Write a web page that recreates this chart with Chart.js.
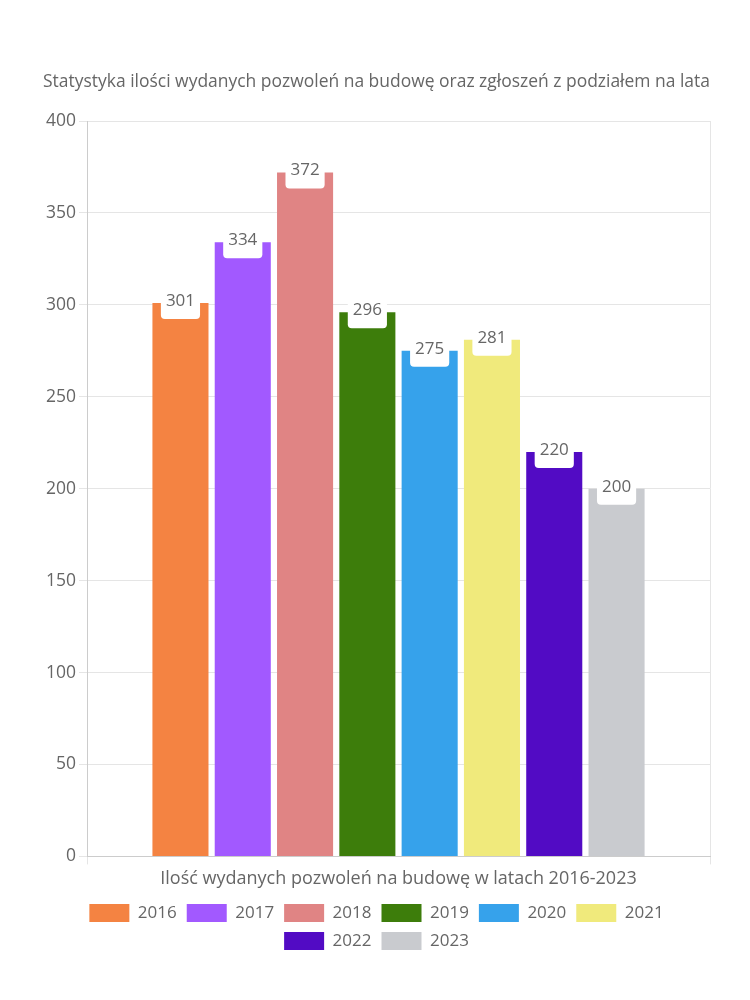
<!DOCTYPE html>
<html>
<head>
<meta charset="utf-8">
<script src="https://cdn.jsdelivr.net/npm/chart.js@4"></script>
<style>
  html, body { margin: 0; padding: 0; background: #fff; }
  #wrap { width: 750px; height: 1000px; }
</style>
</head>
<body>
<div id="wrap"><canvas id="chart"></canvas></div>
<script>
// Data
const category = ['Ilość wydanych pozwoleń na budowę w latach 2016-2023'];
const years = ['2016', '2017', '2018', '2019', '2020', '2021', '2022', '2023'];
const values = [301, 334, 372, 296, 275, 281, 220, 200];
const colors = ['#F48342', '#A259FF', '#E08484', '#3D7D0B', '#36A2EB', '#F0EA7C', '#520BC4', '#C9CBCF'];
const yTicks = [0, 50, 100, 150, 200, 250, 300, 350, 400];

const FONT = "'Open Sans', sans-serif";
const TXT = '#666';

// white label boxes on top of each bar
const valueLabels = {
    id: 'valueLabels',
    afterDatasetsDraw(chart) {
        const ctx = chart.ctx;
        ctx.save();
        ctx.font = '17px ' + FONT;
        ctx.textAlign = 'center';
        ctx.textBaseline = 'middle';
        chart.data.datasets.forEach((ds, i) => {
            const meta = chart.getDatasetMeta(i);
            meta.data.forEach((bar, j) => {
                const text = String(ds.data[j]);
                const w = ctx.measureText(text).width + 10;
                const h = 34;
                const x = bar.x - w / 2;
                const y = bar.y - h / 2 - 1;
                ctx.fillStyle = '#fff';
                ctx.beginPath();
                ctx.roundRect(x, y, w, h, 4);
                ctx.fill();
                ctx.fillStyle = TXT;
                ctx.fillText(text, bar.x, bar.y - 2);
            });
        });
        ctx.restore();
    }
};

const ctx = document.getElementById('chart').getContext('2d');
new Chart(ctx, {
    type: 'bar',
    data: {
        labels: category,
        datasets: years.map((y, i) => ({
            label: y,
            data: [values[i]],
            backgroundColor: colors[i],
            borderWidth: 0
        }))
    },
    options: {
        responsive: true,
        maintainAspectRatio: false,
        animation: false,
        layout: { padding: { top: 72, bottom: 40, left: 43, right: 40 } },
        plugins: {
            title: {
                display: true,
                text: 'Statystyka ilości wydanych pozwoleń na budowę oraz zgłoszeń z podziałem na lata',
                color: TXT,
                font: { family: FONT, size: 17.5, weight: 'normal' },
                padding: { top: 0, bottom: 28 }
            },
            legend: {
                position: 'bottom',
                labels: {
                    color: TXT,
                    font: { family: FONT, size: 17 },
                    boxWidth: 40,
                    boxHeight: 18,
                    padding: 10
                }
            },
            tooltip: { enabled: false }
        },
        scales: {
            x: {
                grid: { color: '#e5e5e5' },
                border: { color: '#ccc' },
                ticks: { color: TXT, font: { family: FONT, size: 18 }, padding: 4 }
            },
            y: {
                min: 0,
                max: 400,
                afterBuildTicks(axis) { axis.ticks = yTicks.map(v => ({ value: v })); },
                grid: { color: '#e5e5e5' },
                border: { color: '#ccc' },
                ticks: { color: TXT, font: { family: FONT, size: 17.5 } }
            }
        }
    },
    plugins: [valueLabels]
});
</script>
</body>
</html>
